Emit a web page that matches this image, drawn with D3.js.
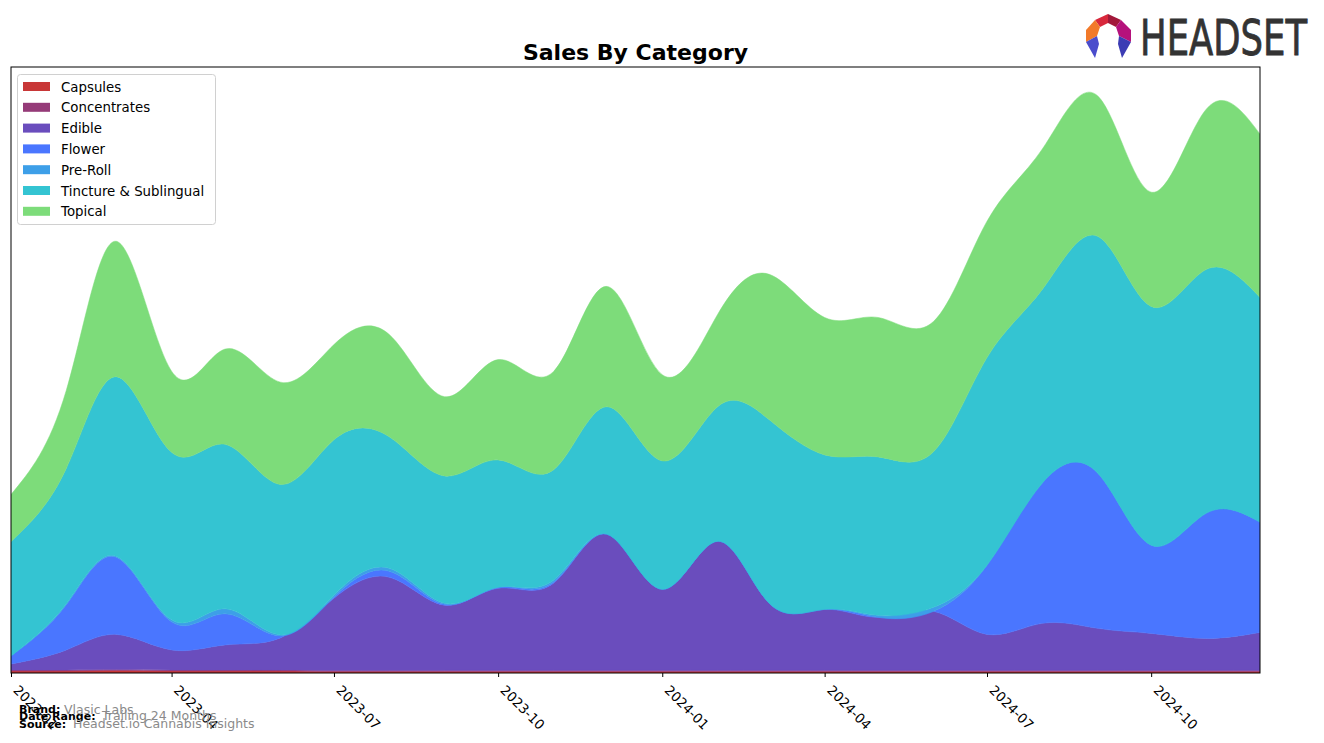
<!DOCTYPE html>
<html>
<head>
<meta charset="utf-8">
<script src="https://cdn.jsdelivr.net/npm/d3@7"></script>
<style>
  html, body { margin: 0; padding: 0; background: #fff; }
  svg { display: block; font-family: "DejaVu Sans", sans-serif; }
</style>
</head>
<body>
<svg id="chart" width="1324" height="743"></svg>
<script>
// ---------- DATA ----------
const months = ["2023-01","2023-02","2023-03","2023-04","2023-05","2023-06","2023-07","2023-08","2023-09","2023-10","2023-11","2023-12",
                "2024-01","2024-02","2024-03","2024-04","2024-05","2024-06","2024-07","2024-08","2024-09","2024-10","2024-11","2024-12"];
const categories = ["Capsules","Concentrates","Edible","Flower","Pre-Roll","Tincture & Sublingual","Topical"];
const capsules     = [2, 2, 2.5, 2, 2, 2, 1.5, 1.5, 1.5, 1.5, 1.5, 1.5, 1.5, 1.5, 1.5, 1.5, 1.5, 1.5, 1.5, 1.5, 1.5, 1.5, 1.5, 1.5];
const concentrates = [1, 1, 1, 1, 1, 1, 1, 1, 1, 1, 1, 1, 1, 1, 1, 1, 1, 1, 1, 1, 1, 1, 1, 1];
const edible       = [6, 20, 35, 20, 25, 32, 72, 93, 65, 82, 87, 136, 81, 129, 67, 61, 53, 59, 36, 47, 42, 37, 32, 38];
const flower       = [8, 45, 77, 28, 31, 2, 1, 6, 1, 1, 1, 0, 0, 0, 0, 0, 0, 0, 69, 140, 155, 88, 125, 110];
const preRoll      = [0, 1, 1, 2, 5, 1, 2, 3, 1, 0, 2, 0, 0, 0, 0, 0, 2, 4, 0, 0, 0, 0, 0, 0];
const tincture     = [114, 135, 179, 167, 164, 150, 155, 131, 127, 127, 110, 127, 128, 134, 183, 154, 158, 155, 207, 193, 236, 238, 243, 224];
const topical      = [47, 78, 135, 81, 95, 102, 95, 102, 79, 100, 98, 120, 86, 92, 145, 137, 139, 130, 136, 140, 140, 114, 160, 163];
const colors = ["#c83737", "#953b78", "#6a4dbd", "#4a76ff", "#3d9fe8", "#34c4d2", "#7ddc7a"];
const tickLabels = ["2023-01","2023-04","2023-07","2023-10","2024-01","2024-04","2024-07","2024-10"];

// ---------- BUILD ----------
const series = [capsules, concentrates, edible, flower, preRoll, tincture, topical];
const parse = d3.timeParse("%Y-%m");
const rows = months.map((m, i) => {
  const r = { date: parse(m) };
  categories.forEach((c, k) => r[c] = series[k][i]);
  return r;
});

const svg = d3.select("#chart");
const L = 11, R = 1260, T = 67, B = 673;

const x = d3.scaleTime().domain([parse(months[0]), parse(months[months.length - 1])]).range([L, R]);
const stacked = d3.stack().keys(categories)(rows);
const maxTotal = d3.max(stacked[stacked.length - 1], d => d[1]);
const y = d3.scaleLinear().domain([0, maxTotal * 1.05]).range([B, T]);

svg.append("defs").append("clipPath").attr("id", "clip")
  .append("rect").attr("x", L).attr("y", T).attr("width", R - L).attr("height", B - T);

const area = d3.area()
  .x(d => x(d.data.date))
  .y0(d => y(d[0]))
  .y1(d => y(d[1]))
  .curve(d3.curveNatural);

svg.append("g").attr("clip-path", "url(#clip)")
  .selectAll("path").data(stacked).join("path")
  .attr("d", area)
  .attr("fill", (d, i) => colors[i])
  .attr("stroke", (d, i) => colors[i])
  .attr("stroke-width", 0.5);

// frame
svg.append("rect").attr("x", L).attr("y", T).attr("width", R - L).attr("height", B - T)
  .attr("fill", "none").attr("stroke", "#000").attr("stroke-width", 1);

// x axis
const ax = svg.append("g").attr("transform", `translate(0,${B})`)
  .call(d3.axisBottom(x).tickValues(tickLabels.map(parse)).tickFormat(d3.timeFormat("%Y-%m")).tickSize(4).tickSizeOuter(0));
ax.select(".domain").remove();
ax.selectAll(".tick line").attr("stroke", "#000");
ax.selectAll(".tick text")
  .attr("font-family", "DejaVu Sans, sans-serif")
  .attr("font-size", "13.33px")
  .attr("fill", "#000")
  .attr("text-anchor", "start")
  .attr("dy", null)
  .attr("y", 0)
  .attr("x", 0)
  .attr("transform", "translate(1,18) rotate(45)");

// title
svg.append("text").attr("x", (L + R) / 2).attr("y", 60).attr("text-anchor", "middle")
  .attr("font-family", "DejaVu Sans, sans-serif").attr("font-weight", "bold").attr("font-size", "22px")
  .text("Sales By Category");

// legend
const lg = svg.append("g");
lg.append("rect").attr("x", 17.5).attr("y", 74.5).attr("width", 198).attr("height", 150)
  .attr("rx", 3).attr("fill", "#fff").attr("fill-opacity", 0.8).attr("stroke", "#d0d0d0");
categories.forEach((c, i) => {
  const cy = 86.5 + i * 20.8;
  lg.append("rect").attr("x", 23).attr("y", cy - 4.5).attr("width", 27).attr("height", 9).attr("fill", colors[i]);
  lg.append("text").attr("x", 61).attr("y", cy + 5).attr("font-size", "13.33px").attr("fill", "#000").text(c);
});

// footer
const foot = [
  ["Brand:", "Vlasic Labs", 713, 64],
  ["Date Range:", "Trailing 24 Months", 719.5, 102],
  ["Source:", "Headset.io Cannabis Insights", 727.5, 73]
];
foot.forEach(([a, b, yy, vx]) => {
  svg.append("text").attr("x", 19).attr("y", yy).attr("font-size", "11px").attr("font-weight", "bold").attr("fill", "#000").text(a);
  svg.append("text").attr("x", vx).attr("y", yy + 0.5).attr("font-size", "12.5px").attr("fill", "#8a8a8a").text(b);
});

// logo
const logo = svg.append("g").attr("transform", "translate(1086,14)");
const polys = [
  [[[9,6],[22,0],[22,9],[14,13]], "#d8283c"],
  [[[22,0],[35,6],[30,13],[22,9]], "#a2183a"],
  [[[0,16],[9,6],[14,13],[11,22],[0,28]], "#f27a2a"],
  [[[35,6],[45,16],[45,28],[33,22],[30,13]], "#b5127c"],
  [[[0,28],[11,22],[13,30],[9,44]], "#4a4ccc"],
  [[[45,28],[33,22],[32,30],[36,44]], "#3c3cb4"]
];
polys.forEach(([pts, col]) => {
  logo.append("polygon").attr("points", pts.map(p => p.join(",")).join(" ")).attr("fill", col);
});
svg.append("text").attr("x", 1140).attr("y", 55)
  .attr("font-family", "'Liberation Sans Narrow', 'DejaVu Sans Condensed', sans-serif")
  .attr("font-size", "50px").attr("fill", "#333").attr("stroke", "#333").attr("stroke-width", 0.8)
  .attr("textLength", 167).attr("lengthAdjust", "spacingAndGlyphs")
  .text("HEADSET");
</script>
</body>
</html>
